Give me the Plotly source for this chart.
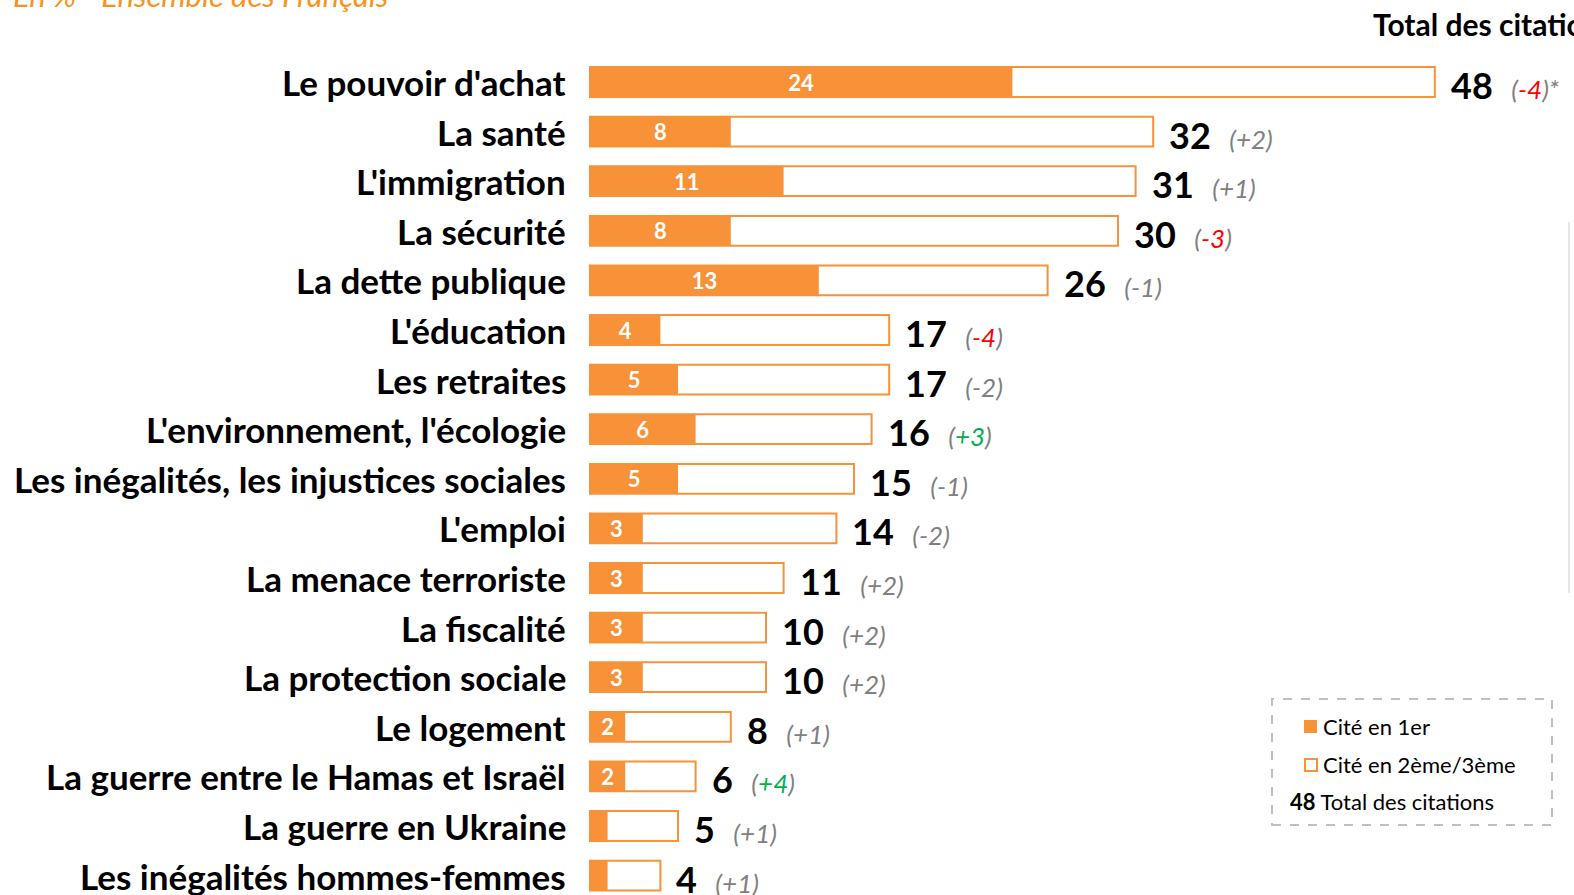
import plotly.graph_objects as go

categories = ["Le pouvoir d'achat", "La santé", "L'immigration", "La sécurité",
              "La dette publique", "L'éducation", "Les retraites",
              "L'environnement, l'écologie", "Les inégalités, les injustices sociales",
              "L'emploi", "La menace terroriste", "La fiscalité", "La protection sociale",
              "Le logement", "La guerre entre le Hamas et Israël", "La guerre en Ukraine",
              "Les inégalités hommes-femmes"]
first_cited = [24, 8, 11, 8, 13, 4, 5, 6, 5, 3, 3, 3, 3, 2, 2, 1, 1]
first_labels = ["24", "8", "11", "8", "13", "4", "5", "6", "5", "3", "3", "3", "3", "2", "2", "", ""]
total_cited = [48, 32, 31, 30, 26, 17, 17, 16, 15, 14, 11, 10, 10, 8, 6, 5, 4]
changes = [-4, 2, 1, -3, -1, -4, -2, 3, -1, -2, 2, 2, 2, 1, 4, 1, 1]

ORANGE = "#F79239"
FONT = "Lato"

rows = list(range(len(categories)))

fig = go.Figure()
fig.add_trace(go.Bar(
    y=rows, x=total_cited, orientation="h", width=0.6,
    marker=dict(color="white", line=dict(color=ORANGE, width=2)),
    hoverinfo="skip", showlegend=False,
))
fig.add_trace(go.Bar(
    y=rows, x=first_cited, orientation="h", width=0.6,
    marker=dict(color=ORANGE, line=dict(width=0)),
    text=first_labels, textposition="inside", insidetextanchor="middle",
    constraintext="none", textangle=0,
    textfont=dict(family=FONT, size=22, color="white", weight="bold"),
    hoverinfo="skip", showlegend=False,
))

annotations = []
for i, (cat, tot, ch) in enumerate(zip(categories, total_cited, changes)):
    annotations.append(dict(
        x=0, y=i, xref="x", yref="y", text=f"<b>{cat}</b>", showarrow=False,
        xanchor="right", yanchor="middle", xshift=-22,
        font=dict(family=FONT, size=35, color="black"),
    ))
    if abs(ch) >= 3:
        col = "#FF0000" if ch < 0 else "#00B050"
    else:
        col = "#808080"
    sign = f"{ch:+d}"
    star = "*" if i == 0 else ""
    txt = (f"<b>{tot}</b>\u00a0\u00a0"
           f"<span style='font-size:26px;color:#808080'><i>(<span style='color:{col}'>{sign}</span>){star}</i></span>")
    annotations.append(dict(
        x=tot, y=i, xref="x", yref="y", text=txt, showarrow=False,
        xanchor="left", yanchor="middle", xshift=14, yshift=-3,
        font=dict(family=FONT, size=36, color="black"),
    ))

W, H = 1574, 895

def px(x):
    return x / W

def py(y):
    return 1 - y / H

annotations.append(dict(
    x=px(1371), y=py(24), xref="paper", yref="paper", text="<b>Total des citations</b>",
    showarrow=False, xanchor="left", yanchor="middle",
    font=dict(family=FONT, size=30, color="black"),
))
annotations.append(dict(
    x=px(11), y=py(16), xref="paper", yref="paper", text="<i>En % - Ensemble des Français</i>",
    showarrow=False, xanchor="left", yanchor="bottom",
    font=dict(family=FONT, size=31, color="#F7941D"),
))
# legend box
annotations += [
    dict(x=px(1321), y=py(726), xref="paper", yref="paper", text="Cité en 1er", showarrow=False,
         xanchor="left", yanchor="middle", font=dict(family=FONT, size=22, color="black")),
    dict(x=px(1321), y=py(764), xref="paper", yref="paper", text="Cité en 2ème/3ème", showarrow=False,
         xanchor="left", yanchor="middle", font=dict(family=FONT, size=22, color="black")),
    dict(x=px(1288), y=py(801), xref="paper", yref="paper", text="<b>48</b> Total des citations", showarrow=False,
         xanchor="left", yanchor="middle", font=dict(family=FONT, size=22, color="black")),
]
shapes = [
    dict(type="rect", xref="paper", yref="paper", x0=px(1272), x1=px(1552), y0=py(825), y1=py(699),
         line=dict(color="#BFBFBF", width=2, dash="dash"), fillcolor="rgba(0,0,0,0)"),
    dict(type="rect", xref="paper", yref="paper", x0=px(1304), x1=px(1317), y0=py(733), y1=py(720),
         line=dict(width=0), fillcolor=ORANGE),
    dict(type="rect", xref="paper", yref="paper", x0=px(1305), x1=px(1317), y0=py(771), y1=py(759),
         line=dict(color=ORANGE, width=2), fillcolor="white"),
    dict(type="line", xref="paper", yref="paper", x0=px(1569), x1=px(1569), y0=py(222), y1=py(593),
         line=dict(color="#E6E6E6", width=2)),
]

x_scale = 17.6
fig.update_layout(
    width=W, height=H, autosize=False,
    margin=dict(l=0, r=0, t=0, b=0),
    paper_bgcolor="white", plot_bgcolor="white",
    barmode="overlay",
    xaxis=dict(range=[-590 / x_scale, (W - 590) / x_scale], visible=False, fixedrange=True),
    yaxis=dict(range=[(H - 82) / 49.6, -82 / 49.6], visible=False, fixedrange=True),
    annotations=annotations, shapes=shapes,
    font=dict(family=FONT),
)

fig.write_html("out.html", config={"displayModeBar": False},
               post_script="document.body.style.margin='0';document.body.style.overflow='hidden';")
